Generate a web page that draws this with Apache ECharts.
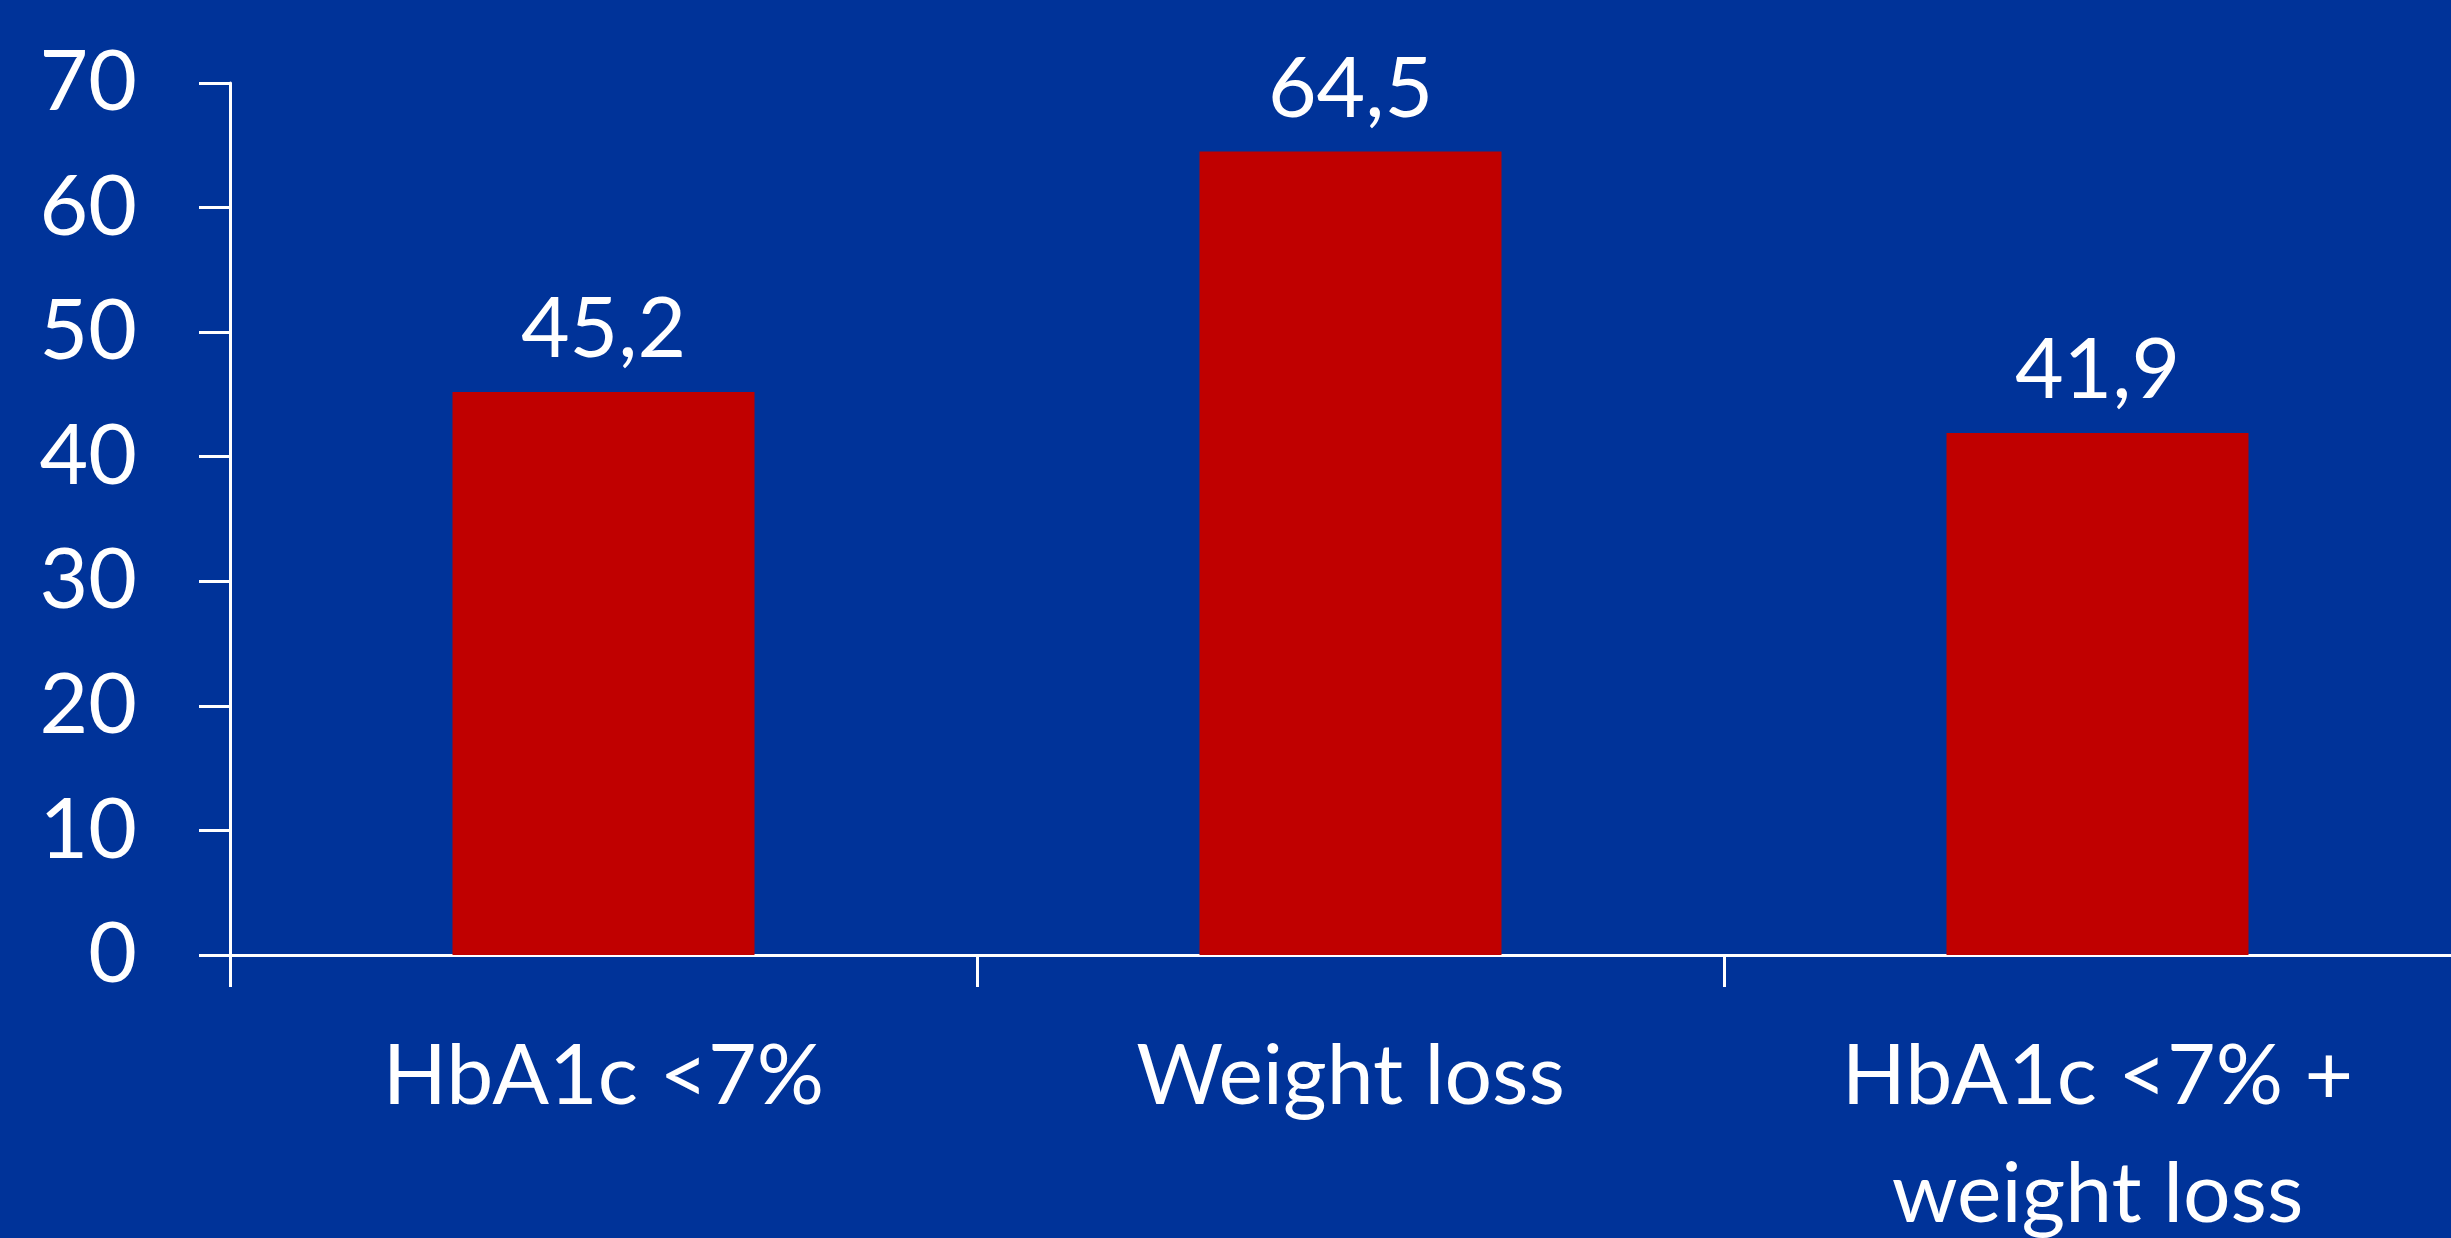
<!DOCTYPE html>
<html>
<head>
<meta charset="utf-8">
<script src="https://cdn.jsdelivr.net/npm/echarts@6/dist/echarts.min.js"></script>
<style>
    html, body { margin: 0; padding: 0; background: #003399; }
    #chart { width: 2451px; height: 1238px; }
</style>
</head>
<body>
<div id="chart"></div>
<script>
// 数据
const categories = ['HbA1c <7%', 'Weight loss', 'HbA1c <7% +\nweight loss'];
const values = [45.2, 64.5, 41.9];
const yMin = 0;
const yMax = 70;
const yStep = 10;

const fontFamily = 'Lato, "Open Sans", sans-serif';
const white = '#ffffff';

const chart = echarts.init(document.getElementById('chart'));

chart.setOption({
    backgroundColor: '#003399',
    animation: false,
    // 网格略超出右边缘，最后一个刻度在画面外
    grid: {
        left: 230,
        width: 2241,
        top: 83,
        bottom: 283,
        containLabel: false,
        outerBoundsMode: 'none'
    },
    xAxis: {
        type: 'category',
        data: categories,
        axisLine: { lineStyle: { color: white, width: 3 } },
        axisTick: { show: true, length: 32, lineStyle: { color: white, width: 3 } },
        axisLabel: {
            color: white,
            fontFamily: fontFamily,
            fontSize: 84,
            lineHeight: 118,
            margin: 63
        }
    },
    yAxis: {
        type: 'value',
        min: yMin,
        max: yMax,
        interval: yStep,
        splitLine: { show: false },
        axisLine: { show: true, lineStyle: { color: white, width: 3 } },
        axisTick: { show: true, length: 31, lineStyle: { color: white, width: 3 } },
        axisLabel: {
            color: white,
            fontFamily: fontFamily,
            fontSize: 84,
            margin: 93
        }
    },
    series: [{
        type: 'bar',
        data: values,
        barWidth: 302,
        itemStyle: { color: '#c00000' },
        label: {
            show: true,
            position: 'top',
            distance: 20,
            color: white,
            fontFamily: fontFamily,
            fontSize: 84,
            formatter: (p) => String(p.value).replace('.', ',')
        }
    }]
});
</script>
</body>
</html>
